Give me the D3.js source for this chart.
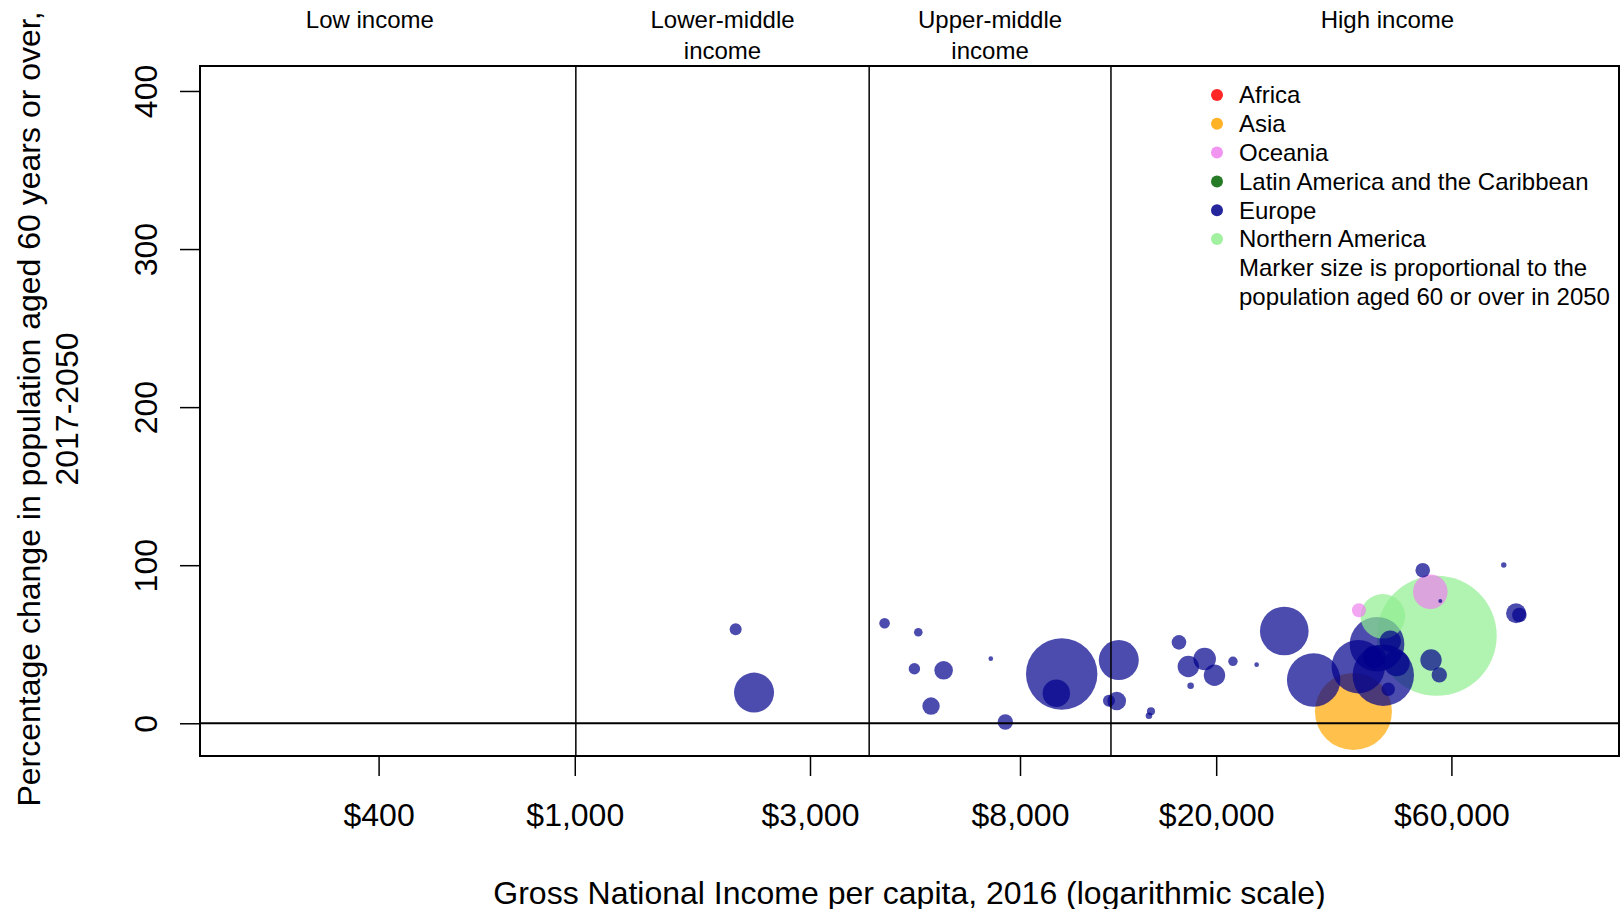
<!DOCTYPE html>
<html><head><meta charset="utf-8">
<script src="https://cdn.jsdelivr.net/npm/d3@7"></script>
<style>
html,body{margin:0;padding:0;background:#fff;}
svg{display:block;font-family:"Liberation Sans",Arial,Helvetica,sans-serif;}
</style>
</head><body>
<svg id="chart" width="1622" height="909"></svg>
<script>
// ---------- data ----------
const countries = ["Moldova","Ukraine","Albania","Bosnia and Herzegovina","North Macedonia","Belarus","Serbia","Montenegro","Bulgaria","Russian Federation","Romania","Poland","Hungary","Croatia","Latvia","Lithuania","Slovakia","Czechia","Estonia","Portugal","Greece","Slovenia","Malta","Spain","Italy","Japan","France","United Kingdom","New Zealand","Canada","Germany","Austria","Netherlands","Belgium","Finland","Ireland","Sweden","Denmark","Iceland","United States of America","Australia","Luxembourg","Switzerland","Norway"];
const regions = ["Europe","Europe","Europe","Europe","Europe","Europe","Europe","Europe","Europe","Europe","Europe","Europe","Europe","Europe","Europe","Europe","Europe","Europe","Europe","Europe","Europe","Europe","Europe","Europe","Europe","Asia","Europe","Europe","Oceania","Northern America","Europe","Europe","Europe","Europe","Europe","Europe","Europe","Europe","Europe","Northern America","Oceania","Europe","Europe","Europe"];
// GNI per capita 2016 (US$)
const gni = [2120,2310,4250,4975,4885,5600,5280,6980,7470,9720,9480,12690,12570,12120,14750,14610,16810,17560,17750,18950,19840,21630,24160,27490,31530,37970,38840,42390,38960,43550,43650,45100,46460,41860,44670,52480,54550,56700,56970,56020,54370,76620,81150,82410];
// percentage change in population aged 60+, 2017-2050
const change = [59.5,19.4,63.3,57.6,34.5,33.5,10.9,40.9,0.8,31.2,19.0,40.0,14.1,14.3,7.6,4.8,51.2,35.9,23.8,40.7,30.4,39.2,37.1,58.4,27.4,7.5,35.8,50.0,71.5,67.7,30.4,51.9,38.0,42.0,21.5,96.8,40.0,30.6,77.4,55.4,83.2,100.1,69.6,68.5];
// population aged 60+ in 2050 (millions)
const pop2050 = [1.07,11.9,0.84,0.55,0.97,2.57,2.25,0.16,1.76,37.9,5.58,11.9,2.57,1.07,0.48,0.32,1.58,3.40,0.32,3.80,3.40,0.66,0.16,17.6,21.2,44.1,21.2,22.2,1.46,14.8,28.0,3.40,5.0,3.9,1.33,1.58,3.40,1.76,0.12,107,8.9,0.22,2.97,1.58];

const regionNames = ["Africa","Asia","Oceania","Latin America and the Caribbean","Europe","Northern America"];
const regionColors = ["#FF0000","#FFA500","#EE82EE","#006400","#00008B","#90EE90"];
const sizeNote = ["Marker size is proportional to the","population aged 60 or over in 2050"];

const incomeGroups = [["Low income"],["Lower-middle","income"],["Upper-middle","income"],["High income"]];
const incomeLabelAt = [384, 1994, 6956, 44500];
const incomeThresholds = [1005, 3955, 12235];

const xTicks = [400,1000,3000,8000,20000,60000];
const yTicks = [0,100,200,300,400];
const xTitle = "Gross National Income per capita, 2016 (logarithmic scale)";
const yTitle = ["Percentage change in population aged 60 years or over,","2017-2050"];

// ---------- layout ----------
const L = 200, R = 1619, T = 66, B = 756;
const svg = d3.select("#chart");

const x = d3.scaleLog().domain([173.7, 131250]).range([L, R]);
const y = d3.scaleLinear().domain([-20.7, 415.8]).range([B, T]);
const r = d3.scaleSqrt().domain([0, 107]).range([0, 60]);
const color = d3.scaleOrdinal().domain(regionNames).range(regionColors);

svg.append("clipPath").attr("id","clip").append("rect")
  .attr("x", L).attr("y", T).attr("width", R - L).attr("height", B - T);

// bubbles (largest first)
const rows = countries.map((c,i)=>({c, reg: regions[i], g: gni[i], v: change[i], p: pop2050[i]}))
  .sort((a,b)=>b.p - a.p);
svg.append("g").attr("clip-path","url(#clip)")
  .selectAll("circle").data(rows).enter().append("circle")
  .attr("cx", d=>x(d.g)).attr("cy", d=>y(d.v)).attr("r", d=>r(d.p))
  .attr("fill", d=>color(d.reg)).attr("fill-opacity", 0.7);

// zero line
svg.append("line").attr("x1", L).attr("x2", R).attr("y1", y(0)).attr("y2", y(0))
  .attr("stroke","#000").attr("stroke-width",2);

// income thresholds
svg.append("g").selectAll("line").data(incomeThresholds).enter().append("line")
  .attr("x1", d=>x(d)).attr("x2", d=>x(d)).attr("y1", T).attr("y2", B)
  .attr("stroke","#000").attr("stroke-width",1.5);

// box
svg.append("rect").attr("x", L).attr("y", T).attr("width", R - L).attr("height", B - T)
  .attr("fill","none").attr("stroke","#000").attr("stroke-width",2);

// x axis
const xAxis = svg.append("g").attr("transform", `translate(0,${B})`)
  .call(d3.axisBottom(x).tickValues(xTicks).tickSize(20).tickFormat(d=>"$" + d3.format(",")(d)));
xAxis.select(".domain").remove();
xAxis.selectAll(".tick line").attr("stroke","#000").attr("stroke-width",1.5);
xAxis.selectAll(".tick text").attr("y", 70).attr("dy", 0)
  .attr("font-size", 32).attr("font-family", "Liberation Sans, Arial, sans-serif").attr("fill","#000");

// y axis
const yAxis = svg.append("g").attr("transform", `translate(${L},0)`)
  .call(d3.axisLeft(y).tickValues(yTicks).tickSize(20));
yAxis.select(".domain").remove();
yAxis.selectAll(".tick line").attr("stroke","#000").attr("stroke-width",1.5);
yAxis.selectAll(".tick text").attr("x", null).attr("dy", null)
  .attr("transform", "translate(-55,0) rotate(-90)")
  .attr("text-anchor","middle").attr("dy","0.36em")
  .attr("font-size", 32).attr("font-family", "Liberation Sans, Arial, sans-serif").attr("fill","#000");

// axis titles
svg.append("text").attr("x", (L + R) / 2).attr("y", 903.5).attr("text-anchor","middle")
  .attr("font-size", 32).text(xTitle);
svg.append("g").selectAll("text").data(yTitle).enter().append("text")
  .attr("transform", (d,i)=>`translate(${28 + i*38},409) rotate(-90)`)
  .attr("text-anchor","middle").attr("dy","0.36em").attr("font-size", 32).text(d=>d);

// income group headers
const hdr = svg.append("g");
incomeGroups.forEach((lines, i) => {
  lines.forEach((ln, j) => {
    hdr.append("text").attr("x", x(incomeLabelAt[i])).attr("y", 27.5 + j*31)
      .attr("text-anchor","middle").attr("font-size", 24).text(ln);
  });
});

// legend
const lg = svg.append("g");
regionNames.forEach((nm, i) => {
  const by = 103.3 + i*28.8;
  lg.append("circle").attr("cx", 1217).attr("cy", by - 8.3).attr("r", 6)
    .attr("fill", color(nm)).attr("fill-opacity", 0.85);
  lg.append("text").attr("x", 1239).attr("y", by).attr("font-size", 24).text(nm);
});
sizeNote.forEach((t, j) => {
  lg.append("text").attr("x", 1239).attr("y", 103.3 + (6 + j)*28.8).attr("font-size", 24).text(t);
});
</script>
</body></html>
